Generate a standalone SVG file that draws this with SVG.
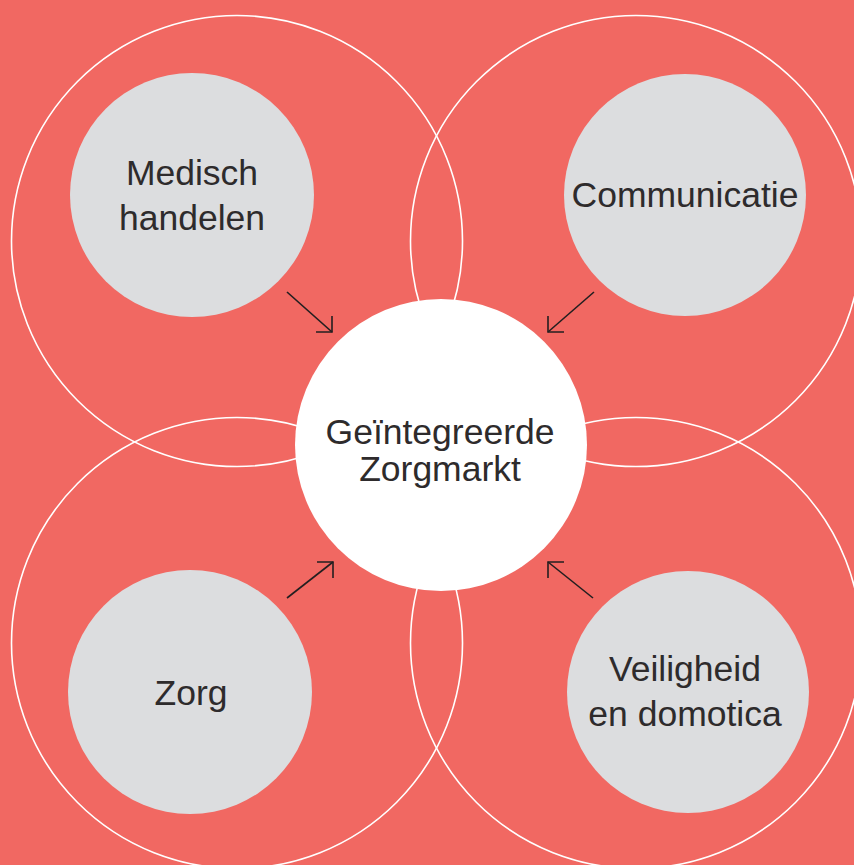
<svg xmlns="http://www.w3.org/2000/svg" width="854" height="865" viewBox="0 0 854 865">
<style>
.bg{fill:#F16862}
.ring{fill:none;stroke:#FFFFFF;stroke-width:1.6}
.node{fill:#DCDDDF}
.hub{fill:#FFFFFF}
.lbl{font-family:"Liberation Sans",Arial,sans-serif;font-size:35.5px;fill:#2E2B2C;text-anchor:middle}
.arr{fill:none;stroke:#231F20;stroke-width:1.6;stroke-linecap:butt}
</style>
<rect class="bg" x="0" y="0" width="854" height="865"/>
<g id="rings">
<circle class="ring" cx="237" cy="241" r="225.5"/>
<circle class="ring" cx="636" cy="241" r="225.5"/>
<circle class="ring" cx="237" cy="643" r="225.5"/>
<circle class="ring" cx="636" cy="643" r="225.5"/>
</g>
<g id="connectors">
<line class="arr" x1="287" y1="292" x2="332" y2="332"/>
<polyline class="arr" points="332,316 332,332 316,332"/>
<line class="arr" x1="594" y1="292" x2="548" y2="332"/>
<polyline class="arr" points="548,316 548,332 564,332"/>
<line class="arr" x1="287" y1="598" x2="333" y2="562"/>
<polyline class="arr" points="317,562 333,562 333,578"/>
<line class="arr" x1="593" y1="598" x2="548" y2="562"/>
<polyline class="arr" points="564,562 548,562 548,578"/>
</g>
<g id="node-medisch">
<circle class="node" cx="192" cy="195" r="122"/>
<text class="lbl" x="192" y="185">Medisch</text>
<text class="lbl" x="192" y="230">handelen</text>
</g>
<g id="node-communicatie">
<circle class="node" cx="685" cy="195" r="121"/>
<text class="lbl" x="685" y="207">Communicatie</text>
</g>
<g id="node-zorg">
<circle class="node" cx="190" cy="692" r="122"/>
<text class="lbl" x="191" y="705">Zorg</text>
</g>
<g id="node-veiligheid">
<circle class="node" cx="688" cy="692" r="121"/>
<text class="lbl" x="685" y="681">Veiligheid</text>
<text class="lbl" x="685" y="726">en domotica</text>
</g>
<g id="node-zorgmarkt">
<circle class="hub" cx="441" cy="445" r="146"/>
<text class="lbl" x="440" y="444">Geïntegreerde</text>
<text class="lbl" x="440" y="481">Zorgmarkt</text>
</g>
</svg>
